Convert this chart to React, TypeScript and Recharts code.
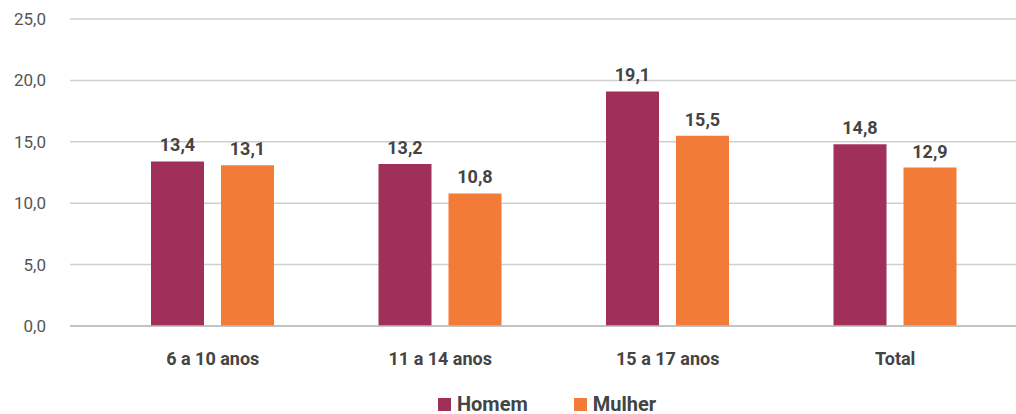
import { BarChart, Bar, XAxis, YAxis, CartesianGrid, Legend, LabelList } from 'recharts';

const categories = ['6 a 10 anos', '11 a 14 anos', '15 a 17 anos', 'Total'];
const homem = [13.4, 13.2, 19.1, 14.8];
const mulher = [13.1, 10.8, 15.5, 12.9];
const yTicks = [0, 5, 10, 15, 20, 25];

const series = [
  { key: 'homem', name: 'Homem', color: '#A0305A' },
  { key: 'mulher', name: 'Mulher', color: '#F27B38' },
];

const data = categories.map((name, i) => ({ name, homem: homem[i], mulher: mulher[i] }));

const fmt = (v: number) => v.toFixed(1).replace('.', ',');

const LegendBox = () => (
  <div style={{ display: 'flex', justifyContent: 'center', gap: 46, paddingLeft: 78, fontFamily: 'Roboto', fontWeight: 700, fontSize: 20, color: '#444', lineHeight: '22px' }}>
    {series.map((s) => (
      <div key={s.key} style={{ display: 'flex', alignItems: 'center' }}>
        <span style={{ display: 'inline-block', width: 13, height: 13, background: s.color, marginRight: 6 }} />
        <span>{s.name}</span>
      </div>
    ))}
  </div>
);

const App = () => {
  return (
    <div style={{ position: 'absolute', left: 0, top: 0, fontFamily: 'Roboto' }}>
      <BarChart width={1016} height={414} data={data} margin={{ top: 19, right: 0, left: 0, bottom: 0 }} barSize={53} barGap={17}>
        <CartesianGrid vertical={false} stroke="#cfcfcf" strokeWidth={1.5} />
        <XAxis
          dataKey="name"
          axisLine={{ stroke: '#bbb', strokeWidth: 1.5 }}
          tickLine={false}
          padding={{ left: 29, right: 7 }}
          height={66}
          tickMargin={20}
          tick={{ fill: '#444', fontSize: 18, fontWeight: 700 }}
        />
        <YAxis
          width={70}
          domain={[0, 25]}
          ticks={yTicks}
          tickFormatter={fmt}
          axisLine={false}
          tickLine={false}
          tickSize={0}
          tickMargin={24}
          tick={{ fill: '#555', fontSize: 17 }}
        />
        <Legend content={<LegendBox />} verticalAlign="bottom" wrapperStyle={{ bottom: -1, height: 22 }} />
        {series.map((s) => (
          <Bar key={s.key} dataKey={s.key} name={s.name} fill={s.color} isAnimationActive={false}>
            <LabelList dataKey={s.key} position="top" offset={10} formatter={(v: any) => fmt(Number(v))} style={{ fill: '#444', fontSize: 18, fontWeight: 700 }} />
          </Bar>
        ))}
      </BarChart>
    </div>
  );
};

export default App;
